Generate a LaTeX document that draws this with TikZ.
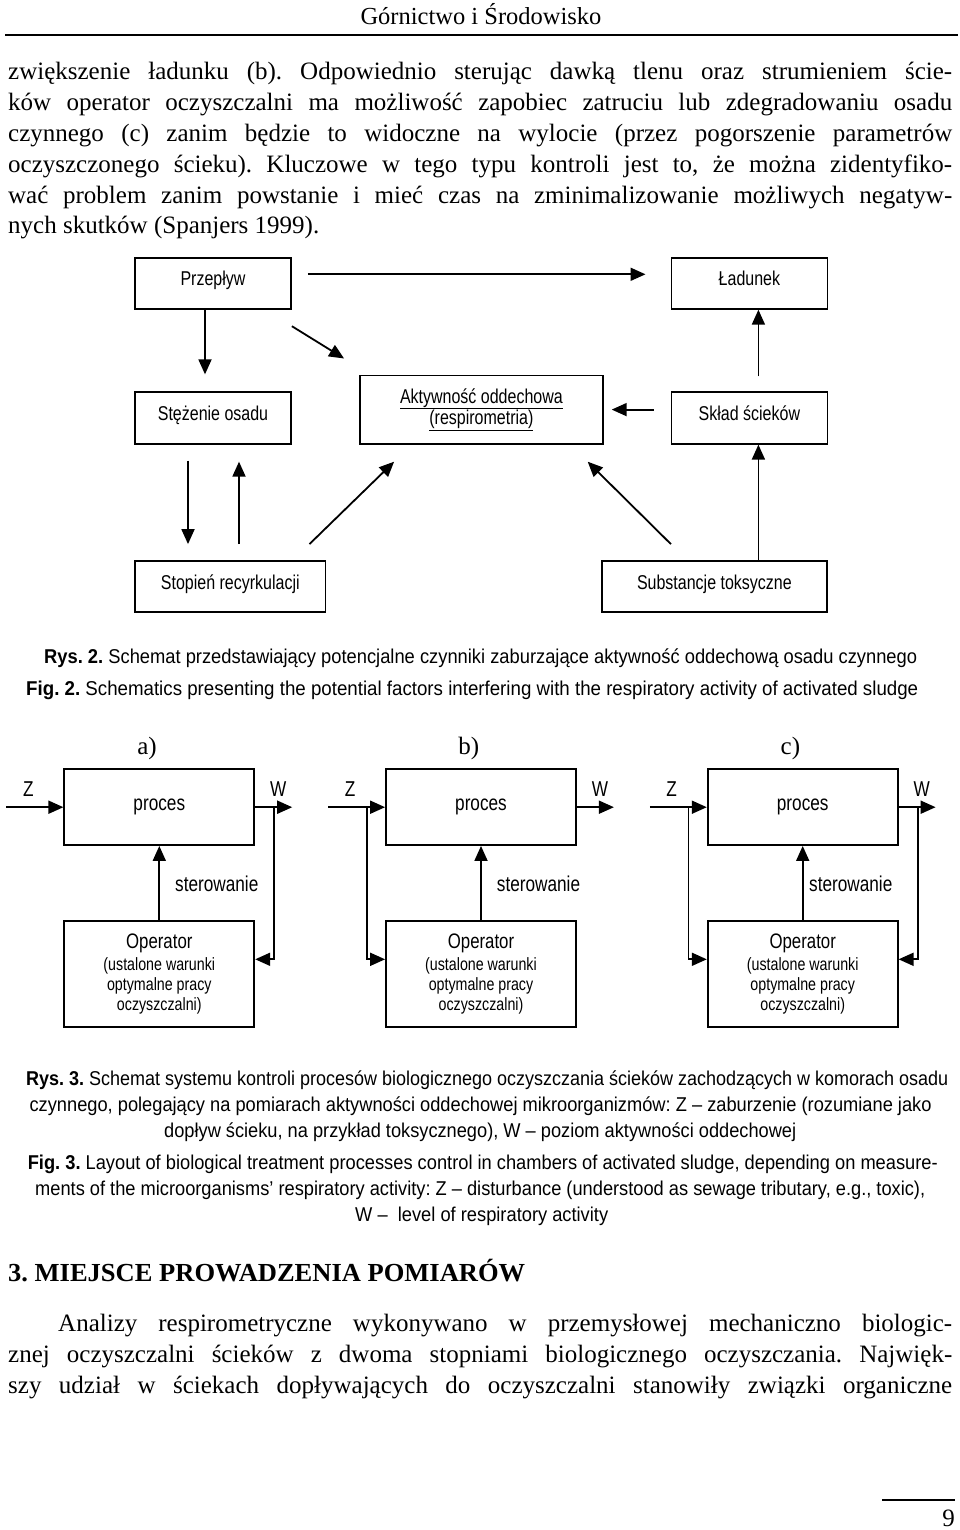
\documentclass[tikz,border=0pt]{standalone}
\usepackage{fontspec}
\setmainfont{Liberation Serif}
\setsansfont{Liberation Sans}
\newfontfamily\waski{Liberation Sans}[FakeStretch=0.8]
\usepackage{graphicx}
\usepackage{tikz}
\usetikzlibrary{arrows.meta, calc, positioning}
\tikzset{>={Triangle[length=15pt,width=13pt]}}
\tikzset{
  blok/.style={draw, line width=1.8pt, inner sep=0pt, font=\waski\fontsize{20}{21.5}\selectfont, text height=15pt, text depth=10pt},
  strzalka/.style={->, line width=1.8pt},
  proces/.style={draw, line width=1.8pt, minimum width=190pt, minimum height=75.7pt, font=\waski\fontsize{21.5}{24}\selectfont},
  operator/.style={draw, line width=1.8pt, minimum width=190pt, minimum height=106.6pt, align=center, font=\waski\fontsize{17.8}{20}\selectfont},
  znak/.style={inner sep=0pt, font=\waski\fontsize{21.5}{24}\selectfont},
  litera/.style={inner sep=0pt, font=\fontsize{25}{30}\selectfont},
  tekst/.style={inner sep=0pt, anchor=base west, font=\fontsize{25}{30.8}\selectfont},
  podpis/.style={inner sep=0pt, anchor=base west, font=\sffamily\fontsize{20}{23}\selectfont},
}
\newcommand{\wiersz}[2][944pt]{\makebox[#1][s]{#2}}
\newcommand{\dopasuj}[2]{\resizebox{#1}{\height}{#2}}

\begin{document}
\frenchspacing
\begin{tikzpicture}[x=1pt, y=-1pt]
\useasboundingbox (0,0) rectangle (960,1530);
\fill[white] (0,0) rectangle (960,1530);

% naglowek strony
\node[inner sep=0pt, anchor=base, font=\fontsize{24.5}{29}\selectfont] (tytul) at (481,25) {Górnictwo i Środowisko};
\draw[line width=1.4pt] (5,35) -- (958,35);

% tekst przed rysunkiem
\foreach \t [count=\i] in {
  {zwiększenie ładunku (b). Odpowiednio sterując dawką tlenu oraz strumieniem ście-},
  {ków operator oczyszczalni ma możliwość zapobiec zatruciu lub zdegradowaniu osadu},
  {czynnego (c) zanim będzie to widoczne na wylocie (przez pogorszenie parametrów},
  {oczyszczonego ścieku). Kluczowe w tego typu kontroli jest to, że można zidentyfiko-},
  {wać problem zanim powstanie i mieć czas na zminimalizowanie możliwych negatyw-}}
  \node[tekst] (akapit\i) at (8,49.2+30.8*\i) {\wiersz{\t}};
\node[tekst] (akapit6) at (8,234) {nych skutków (Spanjers 1999).};

% Rys. 2
\node[blok, minimum width=156pt, minimum height=51pt] (przeplyw) at (213,283.3) {Przepływ};
\node[blok, minimum width=156pt, minimum height=51pt] (ladunek) at (749.4,283.3) {Ładunek};
\node[blok, minimum width=156pt, minimum height=51.5pt] (stezenie) at (213,418) {Stężenie osadu};
\node[draw, line width=1.8pt, minimum width=242.8pt, minimum height=68.4pt, align=center, font=\waski\fontsize{20}{21.5}\selectfont] (aktywnosc) at (481.4,409.6) {\underline{Aktywność oddechowa}\\\underline{(respirometria)}};
\node[blok, minimum width=156pt, minimum height=51.5pt] (sklad) at (749.4,418) {Skład ścieków};
\node[blok, minimum width=190.5pt, minimum height=51pt] (stopien) at (230.3,586.5) {Stopień recyrkulacji};
\node[blok, minimum width=225.2pt, minimum height=51pt] (substancje) at (714.4,586.5) {Substancje toksyczne};

\draw[strzalka, shorten <=16pt, shorten >=25pt] ([yshift=9pt]przeplyw.east) -- ([yshift=9pt]ladunek.west);
\draw[strzalka, shorten >=17pt] ([xshift=-8pt]przeplyw.south) -- ([xshift=-8pt]stezenie.north);
\draw[strzalka] ([yshift=-16.5pt]przeplyw.south east) -- ([xshift=-15pt,yshift=16pt]aktywnosc.north west);
\draw[strzalka, shorten <=15pt] ([xshift=9pt]sklad.north) -- ([xshift=9pt]ladunek.south);
\draw[strzalka, shorten <=17pt, shorten >=8pt] (sklad.west |- aktywnosc.east) -- (aktywnosc.east);
\draw[strzalka, shorten <=16pt, shorten >=16pt] ([xshift=-25pt]stezenie.south) -- ([xshift=-25pt]stezenie.south |- stopien.north);
\draw[strzalka, shorten <=16pt, shorten >=17pt] ([xshift=26pt]stezenie.south |- stopien.north) -- ([xshift=26pt]stezenie.south);
\draw[strzalka] ([xshift=-17pt,yshift=16pt]stopien.north east) -- ([xshift=35pt,yshift=-17pt]aktywnosc.south west);
\draw[strzalka] ([xshift=70pt,yshift=16pt]substancje.north west) -- ([xshift=-16pt,yshift=-17pt]aktywnosc.south east);
\draw[strzalka] ([xshift=9pt]sklad.south |- substancje.north) -- ([xshift=9pt]sklad.south);

\node[podpis] (rys2) at (44,663) {\dopasuj{873pt}{\textbf{Rys. 2.} Schemat przedstawiający potencjalne czynniki zaburzające aktywność oddechową osadu czynnego}};
\node[podpis] (fig2) at (26,695.5) {\dopasuj{892pt}{\textbf{Fig. 2.} Schematics presenting the potential factors interfering with the respiratory activity of activated sludge}};

% Rys. 3
\foreach \p/\x/\lab/\soff in {a/159.3/a)/15.7, b/481/b)/15.7, c/802.7/c)/6.3} {
  \node[proces] (proc\p) at (\x,807.2) {proces};
  \node[operator] (oper\p) at (\x,974) {{\fontsize{21}{22}\selectfont Operator}\\[2pt](ustalone warunki\\optymalne pracy\\oczyszczalni)};
  \node[litera] (lit\p) at (\x-12.3,748) {\lab};
  \node[znak] (z\p) at (\x-131,789) {Z};
  \node[znak] (w\p) at (\x+119,789) {W};
  \node[znak, anchor=west] (ster\p) at (\x+\soff,884) {sterowanie};
  \coordinate (we\p) at ([xshift=-57pt]proc\p.west);
  \coordinate (wy\p) at ([xshift=37pt]proc\p.east);
  \draw[strzalka] (we\p) -- (proc\p.west);
  \draw[strzalka] (proc\p.east) -- (wy\p);
  \draw[strzalka] (oper\p.north) -- (proc\p.south);
}
\draw[strzalka] ([xshift=19pt]proca.east) |- ([yshift=14.7pt]opera.east);
\draw[strzalka] ([xshift=-18.3pt]procb.west) |- ([yshift=14.7pt]operb.west);
\draw[strzalka] ([xshift=-18.3pt]procc.west) |- ([yshift=14.7pt]operc.west);
\draw[strzalka] ([xshift=19pt]procc.east) |- ([yshift=14.7pt]operc.east);

\node[podpis] (rys3a) at (26,1085.5) {\dopasuj{922pt}{\textbf{Rys. 3.} Schemat systemu kontroli procesów biologicznego oczyszczania ścieków zachodzących w komorach osadu}};
\node[podpis] (rys3b) at (29.4,1111.5) {\dopasuj{902pt}{czynnego, polegający na pomiarach aktywności oddechowej mikroorganizmów: Z – zaburzenie (rozumiane jako}};
\node[podpis] (rys3c) at (164,1137.5) {\dopasuj{632pt}{dopływ ścieku, na przykład toksycznego), W – poziom aktywności oddechowej}};
\node[podpis] (fig3a) at (27.6,1169.5) {\dopasuj{910pt}{\textbf{Fig. 3.} Layout of biological treatment processes control in chambers of activated sludge, depending on measure-}};
\node[podpis] (fig3b) at (35,1195.5) {\dopasuj{890pt}{ments of the microorganisms’ respiratory activity: Z – disturbance (understood as sewage tributary, e.g., toxic),}};
\node[podpis] (fig3c) at (355,1221.5) {\dopasuj{253pt}{W –\ \ level of respiratory activity}};

% rozdzial 3
\node[tekst, font=\bfseries\fontsize{26}{31}\selectfont] (rozdzial) at (8,1281) {\dopasuj{517pt}{3. MIEJSCE PROWADZENIA POMIARÓW}};
\node[tekst] (dalej1) at (58,1331) {\wiersz[894pt]{Analizy respirometryczne wykonywano w przemysłowej mechaniczno biologic-}};
\node[tekst] (dalej2) at (8,1362) {\wiersz{znej oczyszczalni ścieków z dwoma stopniami biologicznego oczyszczania. Najwięk-}};
\node[tekst] (dalej3) at (8,1393) {\wiersz{szy udział w ściekach dopływających do oczyszczalni stanowiły związki organiczne}};

% stopka
\draw[line width=1.2pt] (882,1500) -- (955,1500);
\node[tekst, anchor=base east] (strona) at (955,1526) {9};
\end{tikzpicture}
\end{document}
